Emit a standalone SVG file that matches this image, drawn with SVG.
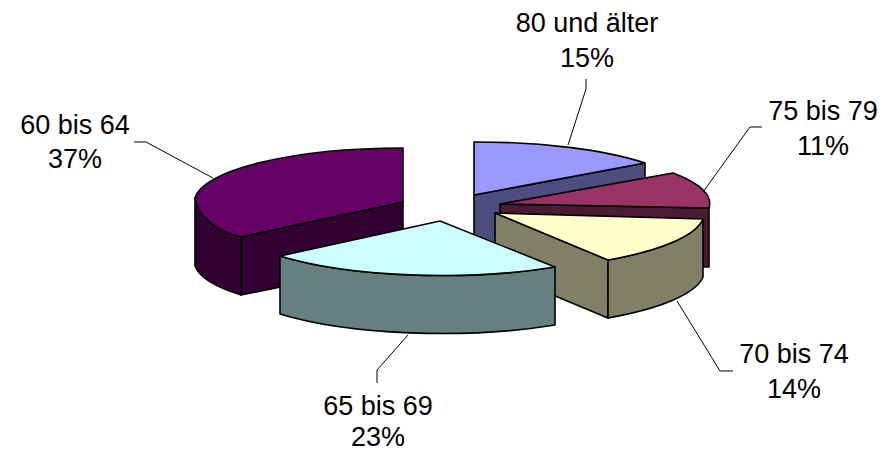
<svg xmlns="http://www.w3.org/2000/svg" width="891" height="451" viewBox="0 0 891 451">
<style>
.e{stroke:#000;stroke-width:1.6;stroke-linejoin:round}
.lead{fill:none;stroke:#000;stroke-width:1}
.lbl{font-family:"Liberation Sans",Arial,sans-serif;font-size:27px;fill:#000;text-anchor:middle}
</style>
<rect width="891" height="451" fill="#fff"/>
<g id="slice-60-64">
<path class="e" fill="#330033" d="M241,237 L403,202 L403,262 L241,295 Z"/>
<path class="e" fill="#330033" d="M195,198 C197,215 215,231 241,237 L241,295 C222,289 200,280 195,266 Z"/>
<path class="e" fill="#660066" d="M403,202 L403,148 A208,54 0 0 0 195,198 C197,215 215,231 241,237 Z"/>
</g>
<g id="slice-80">
<path class="e" fill="#4D4D80" d="M474,195 L645,163 L645,222 L474,254 Z"/>
<path class="e" fill="#9999FF" d="M474,195 L474,142 A212,54 0 0 1 645,163 Z"/>
</g>
<g id="slice-75-79">
<path class="e" fill="#4D1A33" d="M500,204 L709,208 L709,267 L500,263 Z"/>
<path class="e" fill="#993366" d="M500,204 L673,173 A212,54 0 0 1 709,208 Z"/>
</g>
<g id="slice-70-74">
<path class="e" fill="#808066" d="M495,213 L608,260 L608,318 L495,271 Z"/>
<path class="e" fill="#808066" d="M608,260 A215,57 0 0 0 703,219 L703,277 A215,57 0 0 1 608,318 Z"/>
<path class="e" fill="#FFFFCC" d="M495,213 L703,219 A215,57 0 0 1 608,260 Z"/>
</g>
<g id="slice-65-69">
<path class="e" fill="#668080" d="M280,256 A212,55 0 0 0 555,267 L555,325 A212,55 0 0 1 280,314 Z"/>
<path class="e" fill="#CCFFFF" d="M440,221 L555,267 A212,55 0 0 1 280,256 Z"/>
</g>
<g id="connectors">
<path class="lead" d="M586,79 L586,89 L568,145"/>
<path class="lead" d="M762,127 L750,127 L703,192"/>
<path class="lead" d="M134,142 L146,142 L213,178"/>
<path class="lead" d="M377,383 L377,370 L408,335"/>
<path class="lead" d="M733,371 L720,371 L677,301"/>
</g>
<g id="labels">
<text class="lbl" x="587" y="32">80 und älter</text>
<text class="lbl" x="587" y="67">15%</text>
<text class="lbl" x="823" y="120">75 bis 79</text>
<text class="lbl" x="823" y="155">11%</text>
<text class="lbl" x="75" y="134">60 bis 64</text>
<text class="lbl" x="75" y="168">37%</text>
<text class="lbl" x="378" y="415">65 bis 69</text>
<text class="lbl" x="378" y="446">23%</text>
<text class="lbl" x="794" y="363">70 bis 74</text>
<text class="lbl" x="794" y="398">14%</text>
</g>
</svg>
